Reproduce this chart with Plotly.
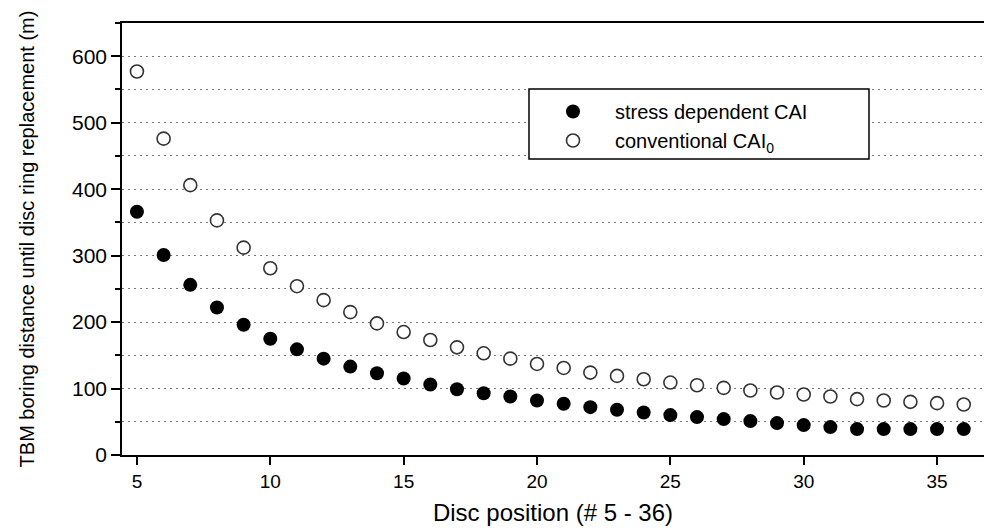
import plotly.graph_objects as go

disc_position = list(range(5, 37))
stress_dependent = [366, 301, 256, 222, 196, 175, 159, 145, 133, 123, 115, 106, 99, 93, 88, 82,
                    77, 72, 68, 64, 60, 57, 54, 51, 48, 45, 42, 39, 39, 39, 39, 39]
conventional = [577, 476, 406, 353, 312, 281, 254, 233, 215, 198, 185, 173, 162, 153, 145, 137,
                131, 124, 119, 114, 109, 105, 101, 97, 94, 91, 88, 84, 82, 80, 78, 76]
x_ticks = [5, 10, 15, 20, 25, 30, 35]

FONT = "Liberation Sans, Arial, sans-serif"
GRID = "#7a7a7a"

fig = go.Figure()
fig.add_trace(go.Scatter(
    x=disc_position, y=stress_dependent, mode="markers",
    name="stress dependent CAI",
    marker=dict(symbol="circle", size=14, color="black", line=dict(width=0)),
))
fig.add_trace(go.Scatter(
    x=disc_position, y=conventional, mode="markers",
    name="conventional CAI<sub>0</sub>",
    marker=dict(symbol="circle", size=13, color="white", line=dict(width=1.6, color="#333333")),
))

# legend frame
fig.add_shape(type="rect", xref="paper", yref="paper",
              x0=(529 - 122) / 862, x1=(869 - 122) / 862,
              y0=(455 - 159) / 432, y1=(455 - 89) / 432,
              line=dict(color="black", width=1.5), fillcolor="white", layer="above")

fig.update_layout(
    width=984, height=530,
    margin=dict(l=122, r=0, t=23, b=75),
    paper_bgcolor="white", plot_bgcolor="white",
    font=dict(family=FONT, color="black", size=19),
    showlegend=True,
    legend=dict(
        x=(529 - 122) / 862, y=(455 - 92) / 432, xanchor="left", yanchor="top",
        bgcolor="rgba(0,0,0,0)", borderwidth=0,
        font=dict(size=20, family=FONT), indentation=2, itemwidth=74,
        tracegroupgap=0,
    ),
    xaxis=dict(
        range=[4.44, 36.76], tickvals=x_ticks, ticks="outside", ticklen=8, tickwidth=1.5,
        tickcolor="black", showline=True, linewidth=1.5, linecolor="black", mirror=True,
        showgrid=False, zeroline=False, tickfont=dict(size=19),
        title=dict(text="Disc position (# 5 - 36)", font=dict(size=24), standoff=14),
    ),
    yaxis=dict(
        range=[0, 650], tick0=0, dtick=100, ticks="outside", ticklen=9, tickwidth=1.5,
        tickcolor="black", showline=True, linewidth=1.5, linecolor="black",
        showgrid=True, griddash="2px,4px", gridcolor=GRID, gridwidth=1,
        zeroline=False, tickfont=dict(size=21),
        minor=dict(dtick=50, tick0=0, ticks="outside", ticklen=5, tickcolor="black",
                   showgrid=True, griddash="2px,4px", gridcolor=GRID, gridwidth=1),
        title=dict(text="TBM boring distance until disc ring replacement (m)",
                   font=dict(size=20), standoff=32),
    ),
)

fig.write_html("out.html")
